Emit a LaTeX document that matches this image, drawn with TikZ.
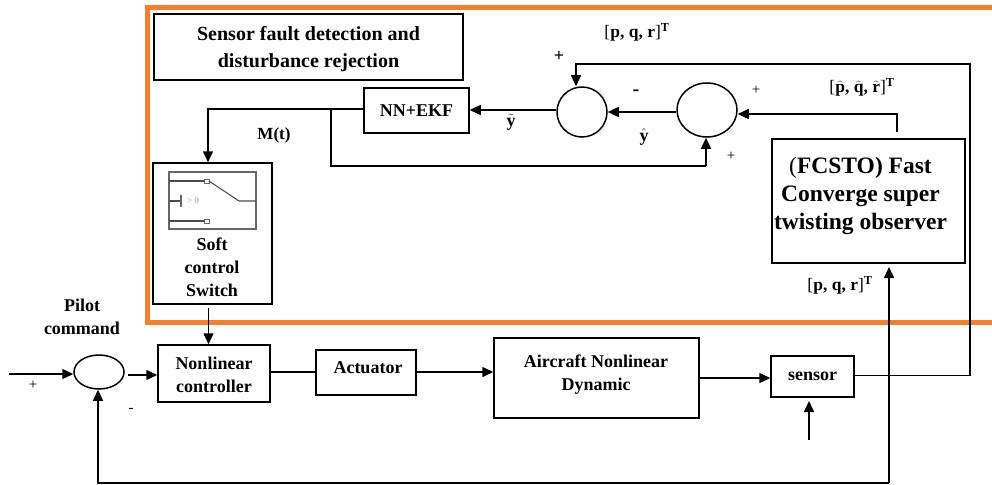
\documentclass[tikz,border=0pt]{standalone}
\usepackage{fontspec}
\setmainfont{Liberation Serif}
\usetikzlibrary{arrows.meta,calc,shapes.geometric}
\newcommand{\bh}[1]{\ensuremath{\widehat{\hbox{\bfseries #1}}}}
\newcommand{\bt}[1]{\ensuremath{\tilde{\hbox{\bfseries #1}}}}
\tikzset{
  x=1pt,y=-1pt,
  blockbox/.style={draw=black,line width=1.5pt,inner sep=0pt,align=center,font=\bfseries\fontsize{18}{23}\selectfont},
  sumcirc/.style={draw=black,line width=1.5pt,ellipse,inner sep=0pt},
  conn/.style={draw=black,line width=1.5pt,-{Triangle[length=11pt,width=10pt]}},
  thinconn/.style={draw=black,line width=1.1pt,-{Triangle[length=11pt,width=10pt]}},
  plain/.style={draw=black,line width=1.5pt},
  lab/.style={inner sep=0pt,font=\bfseries\fontsize{18}{23}\selectfont,align=center},
  pqrlab/.style={inner sep=0pt,font=\bfseries\fontsize{17.5}{20}\selectfont,align=center},
  sign/.style={inner sep=0pt,font=\fontsize{15}{16}\selectfont},
  swicon/.style={draw=black!60,line width=1.1pt},
}
\newcommand{\rectnode}[6]{\node[blockbox,minimum width=#4*1pt-#2*1pt,minimum height=#5*1pt-#3*1pt] (#1) at ({(#2+#4)/2},{(#3+#5)/2}) {#6};}
\begin{document}
\begin{tikzpicture}
\useasboundingbox (0,0) rectangle (992,484);
% orange frame
\draw[color={rgb,255:red,240;green,128;blue,50},line width=5pt] (1000,8) -- (147.5,8) -- (147.5,322) -- (1000,322);
% blocks
\rectnode{title}{154}{14}{463}{80}{}
\rectnode{nn}{364}{88}{469}{133}{NN+EKF}
\rectnode{swbox}{153}{163}{272}{304}{}
\rectnode{fcsto}{772}{139}{965}{263}{}
\rectnode{ctrl}{158}{345}{270}{402}{}
\rectnode{act}{316}{350}{416}{395}{}
\rectnode{plant}{494}{338}{699}{418}{}
\rectnode{sens}{771}{356}{854}{397}{sensor}
\node[lab,font=\bfseries\fontsize{20}{27}\selectfont] (titlet) at (308.5,49.5) {Sensor fault detection and\\disturbance rejection};
\node[lab,font=\fontsize{23.5}{28}\selectfont] (fcstot) at (860.5,196) {(\textbf{FCSTO) Fast}\\\textbf{Converge super}\\\textbf{twisting observer}};
\node[lab] (ctrlt) at (214,375) {Nonlinear\\controller};
\node[lab] (actt) at (368,368) {Actuator};
\node[lab] (plantt) at (596,375) {Aircraft Nonlinear\\Dynamic};
\node[lab] (swt) at (212,267) {Soft\\control\\Switch};
% summing junctions
\node[sumcirc,minimum width=50pt,minimum height=50pt] (s1) at (582,112) {};
\node[sumcirc,minimum width=60pt,minimum height=54pt] (s2) at (707,110) {};
\node[sumcirc,minimum width=50pt,minimum height=34pt] (s3) at (99,372) {};
% switch icon
\draw[swicon,fill=white] (169,172) rectangle (256,229);
\draw[swicon,draw=black!70] (169,181) -- (204,181) (169,221) -- (204,221) (169,201) -- (181,201);
\draw[swicon,line width=1.4pt] (181,195) -- (181,207);
\draw[swicon,fill=white,line width=.8pt] (204,179) rectangle (209,183) (204,219) rectangle (209,223);
\draw[swicon,draw=black!70,line width=1.1pt] (209,181) -- (239,201) -- (256,201);
\node[inner sep=0pt,text=black!40,font=\fontsize{9}{10}\selectfont] (gt) at (193,201) {> 0};
% free ends and corners
\coordinate (inp) at (9,374);
\coordinate (sensup) at (809,440);
\coordinate (senstip) at (809,401);
\coordinate (swout) at (208.5,308);
\coordinate (fbtip) at (889,267);
\coordinate (fbtop) at (889,483);
\coordinate (obsout) at (897,132);
\coordinate (s3o) at (128,375);
% connectors
\draw[conn] (inp) -- (s3.west |- inp);
\draw[conn] (s3o) -- (ctrl.west |- s3o);
\draw[conn] (swout) -- (ctrl.north -| swout);
\draw[plain] (ctrl.east |- 0,372) -- (act.west |- 0,372);
\draw[conn] (act.east |- 0,372) -- (plant.west |- 0,372);
\draw[conn] (plant.east |- 0,378) -- (sens.west |- 0,378);
\draw[conn] (sensup) -- (senstip);
\draw[conn] (fbtop) -- (fbtip);
\draw[conn] (fbtop) -- (98,483) -- (s3.south -| 98,0);
\draw[plain] (sens.east |- 0,375.5) -- (897,375.5);
\draw[thinconn] (897,375.5) -- (970,375.5) -- (970,64) -- (576,64) -- (s1.north -| 576,0);
\draw[conn] (obsout) -- (897,114) -- (s2.east |- 0,114);
\draw[conn] (s2.west |- 0,112) -- (s1.east);
\draw[conn] (s1.west |- 0,110) -- (nn.east |- 0,110);
\coordinate (low) at (331,166);
\coordinate (lowr) at (706,166);
\draw[plain] (331,109) -- (low) -- (lowr);
\draw[conn] (lowr) -- (s2.south -| lowr);
\draw[conn] (nn.west |- 0,109) -- (208,109) -- (swbox.north -| 208,0);
% labels
\node[lab] (pilot) at (82,316.5) {Pilot\\command};
\node[lab,font=\bfseries\fontsize{17}{20}\selectfont] (mt) at (274,135) {M(t)};
\node[lab] (yt) at (511,122) {\bt{y}};
\node[lab] (yh) at (644,137) {\ensuremath{\hat{\hbox{\bfseries y}}}};
\node[pqrlab] (pqr1) at (637,32) {\textmd{[}p, q, r\textmd{]}\textsuperscript{T}};
\node[pqrlab] (pqr2) at (862,87) {\textmd{[}\bh{p}, \bh{q}, \bh{r}\textmd{]}\textsuperscript{T}};
\node[pqrlab] (pqr3) at (840,285) {\textmd{[}p, q, r\textmd{]}\textsuperscript{T}};
\node[sign,font=\bfseries\fontsize{18}{18}\selectfont] (p1) at (559,56) {+};
\node[sign,font=\bfseries\fontsize{20}{18}\selectfont] (m1) at (636,93) {-};
\node[sign] (p2) at (756,90) {+};
\node[sign] (p3) at (731,156) {+};
\node[sign] (p4) at (33,385) {+};
\node[sign] (m2) at (131,410) {-};
\end{tikzpicture}
\end{document}
